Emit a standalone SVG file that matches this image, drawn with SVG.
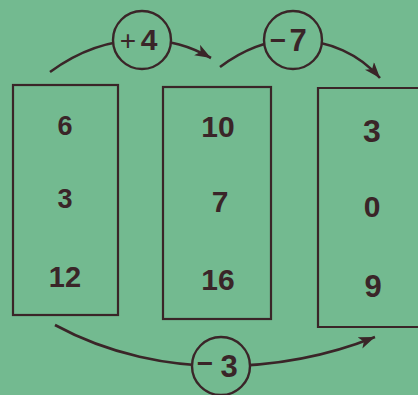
<svg xmlns="http://www.w3.org/2000/svg" width="418" height="395" viewBox="0 0 418 395">
<style>
.box{fill:none;stroke:#3a2528;stroke-width:2.2}
.arc{fill:none;stroke:#3a2528;stroke-width:2.6}
.op{fill:#73ba90;stroke:#3a2528;stroke-width:2.4}
.num{font-family:"Liberation Sans",Arial,sans-serif;font-weight:bold;fill:#3a2528;text-anchor:middle}
.sign{font-family:"Liberation Sans",Arial,sans-serif;fill:#3a2528;text-anchor:middle}
</style>
<defs>
<marker id="ah" markerUnits="userSpaceOnUse" markerWidth="18" markerHeight="14" refX="16" refY="6" orient="auto">
<path d="M0,0 L16,6 L0,12 L4,6 Z" fill="#3a2528"/>
</marker>
</defs>
<rect width="418" height="395" fill="#73ba90"/>
<g id="connectors">
<path class="arc" d="M50,72 C80,50 110,40 142,40 C170,40 190,46 211,58" marker-end="url(#ah)"/>
<path class="arc" d="M220,67 C240,52 265,40 293,40 C330,40 360,55 380,78" marker-end="url(#ah)"/>
<path class="arc" d="M55,325 C110,355 170,366 221,366 C280,366 330,355 375,337" marker-end="url(#ah)"/>
</g>
<g id="op-plus4">
<circle class="op" cx="142" cy="40" r="29"/>
<text class="sign" x="128" y="50" font-size="28">+</text>
<text class="num" x="149" y="50" font-size="30">4</text>
</g>
<g id="op-minus7">
<circle class="op" cx="293" cy="40" r="29"/>
<text class="sign" x="278" y="50" font-size="28" font-weight="bold">−</text>
<text class="num" x="298" y="51" font-size="31">7</text>
</g>
<g id="op-minus3">
<circle class="op" cx="221" cy="366" r="29"/>
<text class="sign" x="205" y="373" font-size="28" font-weight="bold">−</text>
<text class="num" x="229" y="377" font-size="31">3</text>
</g>
<g id="box1">
<rect class="box" x="13" y="85" width="105" height="230"/>
<text class="num" x="65" y="135" font-size="27">6</text>
<text class="num" x="65" y="208" font-size="27">3</text>
<text class="num" x="65" y="287" font-size="29">12</text>
</g>
<g id="box2">
<rect class="box" x="163" y="87" width="108" height="232"/>
<text class="num" x="218" y="137" font-size="30">10</text>
<text class="num" x="220" y="212" font-size="30">7</text>
<text class="num" x="218" y="290" font-size="30">16</text>
</g>
<g id="box3">
<path class="box" d="M420,88 L318,88 L318,327 L420,327"/>
<text class="num" x="372" y="142" font-size="32">3</text>
<text class="num" x="372" y="217" font-size="30">0</text>
<text class="num" x="373" y="297" font-size="31">9</text>
</g>
</svg>
